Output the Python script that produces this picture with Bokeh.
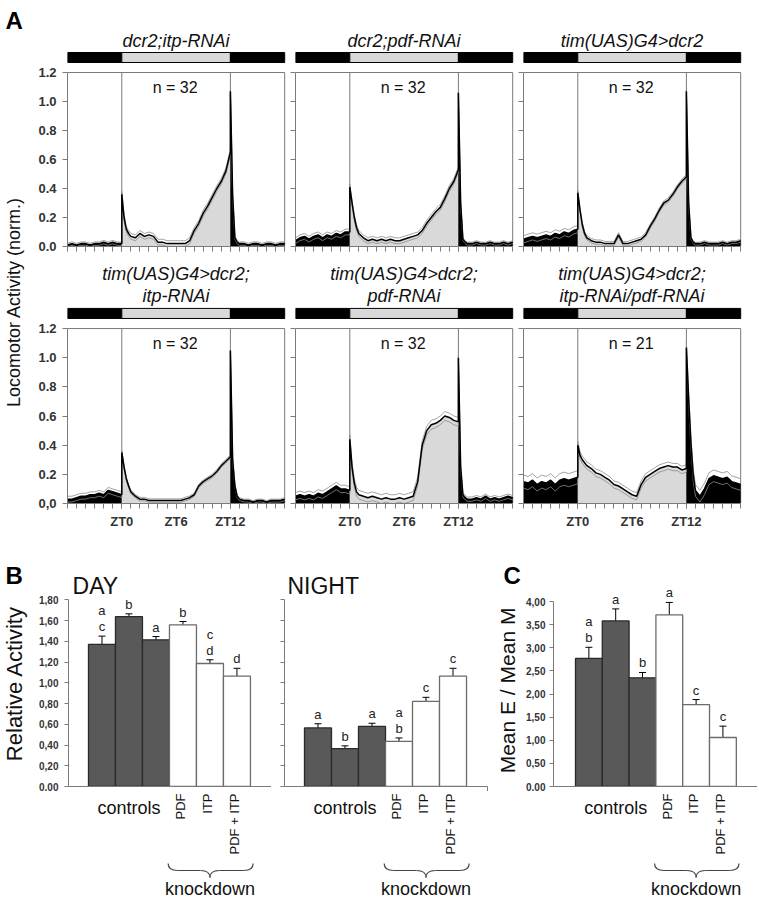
import math
from bokeh.plotting import figure
from bokeh.layouts import row, column
from bokeh.models import Range1d, FixedTicker, Whisker, ColumnDataSource, TeeHead
from bokeh.core.properties import value
from bokeh.embed import file_html
from bokeh.resources import INLINE

FONT = "Liberation Sans"
AXIS_GREY = "#7a7a7a"
LABEL_COL = "#333333"

# ---------------- Panel A: locomotor activity profiles ----------------
zt_night1 = [-6.0, -5.5, -5.0, -4.5, -4.0, -3.5, -3.0, -2.5, -2.0, -1.5, -1.0, -0.5, 0.0]
zt_day = [0.0, 0.25, 0.5, 0.75, 1.0, 1.5, 2.0, 2.5, 3.0, 3.5, 4.0, 4.5, 5.0, 5.5, 6.0,
          6.5, 7.0, 7.5, 8.0, 8.5, 9.0, 9.5, 10.0, 10.5, 11.0, 11.5, 12.0]
zt_night2 = [12.0, 12.25, 12.5, 12.75, 13.0, 13.5, 14.0, 14.5, 15.0, 15.5, 16.0, 16.5, 17.0, 17.5, 18.0]
zt_hour_ticks = [-6, -5, -4, -3, -2, -1, 0, 1, 2, 3, 4, 5, 6, 7, 8, 9, 10, 11, 12, 13, 14, 15, 16, 17, 18]
zt_label_ticks = [0, 6, 12]
zt_label_text = ["ZT0", "ZT6", "ZT12"]
lights_on = 0
lights_off = 12
act_ticks = [0.0, 0.2, 0.4, 0.6, 0.8, 1.0, 1.2]
act_tick_text_row1 = ["0.0", "0.2", "0.4", "0.6", "0.8", "1.0", "1.2"]
act_tick_text_row2 = ["0,0", "0.2", "0.4", "0.6", "0.8", "1.0", "1.2"]

genotypes = [
    ["dcr2;itp-RNAi"],
    ["dcr2;pdf-RNAi"],
    ["tim(UAS)G4>dcr2"],
    ["tim(UAS)G4>dcr2;", "itp-RNAi"],
    ["tim(UAS)G4>dcr2;", "pdf-RNAi"],
    ["tim(UAS)G4>dcr2;", "itp-RNAi/pdf-RNAi"],
]
n_flies = [32, 32, 32, 32, 32, 21]

# dcr2;itp-RNAi
itp_ctrl_night1 = [0.01, 0.02, 0.01, 0.02, 0.02, 0.01, 0.02, 0.02, 0.03, 0.02, 0.03, 0.02, 0.02]
itp_ctrl_day = [0.36, 0.2, 0.12, 0.09, 0.07, 0.06, 0.09, 0.07, 0.08, 0.07, 0.03, 0.03, 0.02, 0.02,
                0.02, 0.02, 0.02, 0.04, 0.11, 0.16, 0.23, 0.28, 0.34, 0.4, 0.45, 0.52, 0.65]
itp_ctrl_night2 = [1.07, 0.35, 0.06, 0.03, 0.02, 0.02, 0.01, 0.02, 0.02, 0.01, 0.02, 0.02, 0.01, 0.02, 0.02]
itp_ctrl_sem = [0.012, 0.02, 0.012]

# dcr2;pdf-RNAi
pdf_ctrl_night1 = [0.04, 0.06, 0.07, 0.05, 0.07, 0.08, 0.06, 0.08, 0.07, 0.09, 0.08, 0.1, 0.1]
pdf_ctrl_day = [0.41, 0.3, 0.2, 0.13, 0.09, 0.06, 0.04, 0.05, 0.04, 0.05, 0.04, 0.05, 0.04, 0.04,
                0.05, 0.06, 0.07, 0.08, 0.11, 0.16, 0.2, 0.24, 0.27, 0.33, 0.4, 0.45, 0.53]
pdf_ctrl_night2 = [1.06, 0.3, 0.05, 0.03, 0.02, 0.02, 0.03, 0.02, 0.02, 0.03, 0.02, 0.02, 0.03, 0.02, 0.03]
pdf_ctrl_sem = [0.02, 0.02, 0.01]

# tim(UAS)G4>dcr2
gal4_ctrl_night1 = [0.05, 0.06, 0.07, 0.06, 0.07, 0.08, 0.07, 0.09, 0.08, 0.1, 0.09, 0.11, 0.12]
gal4_ctrl_day = [0.37, 0.25, 0.15, 0.09, 0.06, 0.04, 0.03, 0.03, 0.02, 0.02, 0.02, 0.08, 0.02, 0.02,
                 0.03, 0.04, 0.05, 0.08, 0.14, 0.19, 0.25, 0.3, 0.32, 0.36, 0.41, 0.45, 0.48]
gal4_ctrl_night2 = [1.07, 0.3, 0.06, 0.03, 0.02, 0.02, 0.03, 0.02, 0.02, 0.02, 0.03, 0.02, 0.03, 0.03, 0.04]
gal4_ctrl_sem = [0.025, 0.015, 0.01]

# tim(UAS)G4>dcr2; itp-RNAi
itp_kd_night1 = [0.03, 0.03, 0.04, 0.05, 0.05, 0.06, 0.06, 0.07, 0.06, 0.09, 0.08, 0.07, 0.06]
itp_kd_day = [0.35, 0.25, 0.17, 0.12, 0.08, 0.05, 0.03, 0.03, 0.02, 0.02, 0.02, 0.02, 0.02, 0.02,
              0.02, 0.02, 0.03, 0.04, 0.06, 0.12, 0.15, 0.17, 0.19, 0.22, 0.26, 0.29, 0.32]
itp_kd_night2 = [1.05, 0.3, 0.12, 0.05, 0.03, 0.02, 0.02, 0.01, 0.02, 0.02, 0.01, 0.02, 0.02, 0.02, 0.03]
itp_kd_sem = [0.02, 0.012, 0.01]

# tim(UAS)G4>dcr2; pdf-RNAi
pdf_kd_night1 = [0.05, 0.06, 0.05, 0.06, 0.05, 0.07, 0.06, 0.08, 0.1, 0.12, 0.1, 0.1, 0.09]
pdf_kd_day = [0.44, 0.25, 0.14, 0.08, 0.06, 0.05, 0.04, 0.05, 0.04, 0.03, 0.04, 0.03, 0.03, 0.04,
              0.03, 0.04, 0.05, 0.15, 0.4, 0.5, 0.54, 0.55, 0.57, 0.6, 0.59, 0.57, 0.56]
pdf_kd_night2 = [1.0, 0.25, 0.06, 0.04, 0.03, 0.03, 0.04, 0.03, 0.05, 0.03, 0.04, 0.03, 0.04, 0.05, 0.04]
pdf_kd_sem = [0.025, 0.03, 0.015]

# tim(UAS)G4>dcr2; itp-RNAi/pdf-RNAi
double_kd_night1 = [0.15, 0.14, 0.16, 0.13, 0.15, 0.14, 0.16, 0.13, 0.16, 0.17, 0.16, 0.17, 0.18]
double_kd_day = [0.4, 0.33, 0.3, 0.28, 0.26, 0.24, 0.21, 0.2, 0.18, 0.16, 0.13, 0.12, 0.1, 0.08,
                 0.06, 0.05, 0.13, 0.18, 0.2, 0.22, 0.24, 0.25, 0.26, 0.25, 0.25, 0.23, 0.24]
double_kd_night2 = [1.07, 0.72, 0.42, 0.2, 0.09, 0.05, 0.1, 0.17, 0.19, 0.18, 0.17, 0.18, 0.15, 0.14, 0.13]
double_kd_sem = [0.045, 0.025, 0.04]

profiles = [
    (itp_ctrl_night1, itp_ctrl_day, itp_ctrl_night2, itp_ctrl_sem),
    (pdf_ctrl_night1, pdf_ctrl_day, pdf_ctrl_night2, pdf_ctrl_sem),
    (gal4_ctrl_night1, gal4_ctrl_day, gal4_ctrl_night2, gal4_ctrl_sem),
    (itp_kd_night1, itp_kd_day, itp_kd_night2, itp_kd_sem),
    (pdf_kd_night1, pdf_kd_day, pdf_kd_night2, pdf_kd_sem),
    (double_kd_night1, double_kd_day, double_kd_night2, double_kd_sem),
]

# ---------------- Panels B and C: bar charts ----------------
bar_x = [1, 2, 3, 4, 5, 6]
bar_kind = ["control", "control", "control", "knockdown", "knockdown", "knockdown"]
knock_labels = ["PDF", "ITP", "PDF + ITP"]

day_rel = [1.37, 1.638, 1.414, 1.559, 1.186, 1.065]
day_sem = [0.08, 0.027, 0.032, 0.032, 0.036, 0.075]
day_letters_low = ["c", "b", "a", "b", "d", "d"]
day_letters_high = ["a", "", "", "", "c", ""]

night_rel = [0.565, 0.365, 0.58, 0.435, 0.82, 1.065]
night_sem = [0.04, 0.027, 0.03, 0.033, 0.04, 0.075]
night_letters_low = ["a", "b", "a", "b", "c", "c"]
night_letters_high = ["", "", "", "a", "", ""]

ratio_em = [2.77, 3.58, 2.35, 3.71, 1.77, 1.06]
ratio_sem = [0.24, 0.26, 0.115, 0.27, 0.11, 0.245]
ratio_letters_low = ["b", "a", "b", "a", "c", "c"]
ratio_letters_high = ["a", "", "", "", "", ""]

rel_ticks = [0.0, 0.2, 0.4, 0.6, 0.8, 1.0, 1.2, 1.4, 1.6, 1.8]
rel_tick_text = ["0,00", "0,20", "0,40", "0,60", "0,80", "1,00", "1,20", "1,40", "1,60", "1,80"]
ratio_ticks = [0.0, 0.5, 1.0, 1.5, 2.0, 2.5, 3.0, 3.5, 4.0]
ratio_tick_text = ["0,00", "0,50", "1,00", "1,50", "2,00", "2,50", "3,00", "3,50", "4,00"]


def base_fig(**kw):
    p = figure(output_backend="svg", toolbar_location=None, **kw)
    p.outline_line_color = None
    p.background_fill_color = "white"
    p.border_fill_color = "white"
    return p


def hide_labels(ax):
    ax.major_label_text_font_size = "0px"
    ax.major_label_text_color = None
    ax.major_label_standoff = 0


def activity_panel(idx):
    night1, day, night2, sem = profiles[idx]
    r, c = divmod(idx, 3)
    fig_w = [255, 229, 239][c]
    b_left = [33, 6, 5][c]
    b_right = [3, 4, 15][c]
    if r == 0:
        fig_h, frame_h, b_top, b_bottom, ppu = 256, 238, 8, 10, 145.0
    else:
        fig_h, frame_h, b_top, b_bottom, ppu = 277, 247, 0, 30, 145.8
    p = base_fig(width=fig_w, height=fig_h, x_range=Range1d(-6, 18.2),
                 y_range=Range1d(0, frame_h / ppu),
                 min_border_left=b_left, min_border_right=b_right,
                 min_border_top=b_top, min_border_bottom=b_bottom)
    p.xgrid.visible = False
    p.ygrid.visible = False

    xa = p.xaxis[0]
    xa.ticker = FixedTicker(ticks=zt_label_ticks, minor_ticks=zt_hour_ticks)
    xa.bounds = (zt_hour_ticks[0], zt_hour_ticks[-1])
    xa.axis_line_color = AXIS_GREY
    xa.major_tick_line_color = AXIS_GREY
    xa.minor_tick_line_color = AXIS_GREY
    xa.major_tick_in = 0
    xa.major_tick_out = 5
    xa.minor_tick_in = 0
    xa.minor_tick_out = 5
    if r == 1:
        xa.major_label_overrides = dict(zip(zt_label_ticks, zt_label_text))
        xa.major_label_text_font = FONT
        xa.major_label_text_font_size = "13px"
        xa.major_label_text_font_style = "bold"
        xa.major_label_text_color = LABEL_COL
        xa.major_label_standoff = 5
    else:
        hide_labels(xa)

    ya = p.yaxis[0]
    ya.ticker = FixedTicker(ticks=act_ticks, minor_ticks=[])
    ya.bounds = (0, 1.2)
    ya.axis_line_color = AXIS_GREY
    ya.major_tick_line_color = AXIS_GREY
    ya.major_tick_in = 0
    ya.major_tick_out = 5
    if c == 0:
        labels = act_tick_text_row1 if r == 0 else act_tick_text_row2
        ya.major_label_overrides = dict(zip(act_ticks, labels))
        ya.major_label_text_font = FONT
        ya.major_label_text_font_size = "13px"
        ya.major_label_text_font_style = "bold"
        ya.major_label_text_color = LABEL_COL
        ya.major_label_standoff = 6
    else:
        hide_labels(ya)

    # frame box (top / right) and lights-on / lights-off lines
    p.line(x=[-6, 18, 18], y=[1.2, 1.2, 0], line_color=AXIS_GREY, line_width=1)
    p.segment(x0=[lights_on, lights_off], y0=[0, 0], x1=[lights_on, lights_off], y1=[1.2, 1.2],
              line_color=AXIS_GREY, line_width=1)

    # activity fills
    p.varea(x=zt_night1, y1=0, y2=night1, fill_color="black")
    p.varea(x=zt_day, y1=0, y2=day, fill_color="#d9d9d9")
    p.varea(x=zt_night2, y1=0, y2=night2, fill_color="black")

    t_all = zt_night1 + zt_day + zt_night2
    m_all = night1 + day + night2
    s_all = [sem[0]] * len(zt_night1) + [sem[1]] * len(zt_day) + [sem[2]] * len(zt_night2)
    upper = [m + s for m, s in zip(m_all, s_all)]
    lower = [max(m - s, 0.0) for m, s in zip(m_all, s_all)]
    p.line(t_all, upper, line_color="#8c8c8c", line_width=0.8)
    p.line(t_all, lower, line_color="#8c8c8c", line_width=0.8)
    p.line(t_all, m_all, line_color="black", line_width=1.5)

    # light / dark bar
    p.quad(left=[-6, lights_on, lights_off], right=[lights_on, lights_off, 18],
           bottom=1.269, top=1.338, fill_color=["black", "#d9d9d9", "black"],
           line_color="black", line_width=1)

    lines = genotypes[idx]
    ys = [1.42] if len(lines) == 1 else [1.577, 1.42]
    p.text(x=[6] * len(lines), y=ys, text=lines, text_font=value(FONT), text_font_style="italic",
           text_font_size="18px", text_align="center", text_baseline="middle", text_color="#111111")
    p.text(x=[5.9], y=[1.1], text=["n = %d" % n_flies[idx]], text_font=value(FONT),
           text_font_size="16px", text_align="center", text_baseline="middle", text_color="#111111")
    return p


def bar_panel(vals, errs, low, high, ticks, tick_text, ytop, x_rng, axis_end, end_ticks,
              fig_w, b_left, show_labels, standoff):
    p = base_fig(width=fig_w, height=258, x_range=x_rng, y_range=Range1d(0, ytop),
                 min_border_left=b_left, min_border_right=0, min_border_top=0, min_border_bottom=5)
    p.xgrid.visible = False
    p.ygrid.visible = False
    ya = p.yaxis[0]
    ya.ticker = FixedTicker(ticks=ticks, minor_ticks=[])
    ya.bounds = (0, ticks[-1])
    ya.axis_line_color = AXIS_GREY
    ya.major_tick_line_color = AXIS_GREY
    ya.major_tick_in = 0
    ya.major_tick_out = 4
    if show_labels:
        ya.major_label_overrides = dict(zip(ticks, tick_text))
        ya.major_label_text_font = FONT
        ya.major_label_text_font_size = "10px"
        ya.major_label_text_font_style = "bold"
        ya.major_label_text_color = LABEL_COL
        ya.major_label_standoff = standoff
    else:
        hide_labels(ya)
    xa = p.xaxis[0]
    xa.ticker = FixedTicker(ticks=end_ticks, minor_ticks=[])
    xa.bounds = (x_rng.start, axis_end)
    xa.axis_line_color = AXIS_GREY
    xa.major_tick_line_color = AXIS_GREY
    xa.major_tick_in = 0
    xa.major_tick_out = 5
    hide_labels(xa)

    fills = ["#595959" if k == "control" else "white" for k in bar_kind]
    outlines = ["#2a2a2a" if k == "control" else "#6b6b6b" for k in bar_kind]
    p.vbar(x=bar_x, top=vals, bottom=0, width=1, fill_color=fills, line_color=outlines, line_width=1.3)

    up = [v + e for v, e in zip(vals, errs)]
    lo = [v - e for v, e in zip(vals, errs)]
    src = ColumnDataSource(dict(x=bar_x, upper=up, lower=lo))
    p.add_layout(Whisker(base="x", upper="upper", lower="lower", source=src, line_color="black",
                         line_width=1,
                         upper_head=TeeHead(size=7, line_color="black", line_width=1),
                         lower_head=TeeHead(size=7, line_color="black", line_width=1)))
    p.text(x=bar_x, y=up, text=low, y_offset=-2, text_font=value(FONT), text_font_size="13px",
           text_align="center", text_baseline="bottom", text_color="#222222")
    p.text(x=bar_x, y=up, text=high, y_offset=-18, text_font=value(FONT), text_font_size="13px",
           text_align="center", text_baseline="bottom", text_color="#222222")
    return p


LABEL_H = 106


def label_panel(x_rng, fig_w, b_left):
    p = base_fig(width=fig_w, height=LABEL_H, x_range=x_rng, y_range=Range1d(0, LABEL_H),
                 x_axis_type=None, y_axis_type=None,
                 min_border_left=b_left, min_border_right=0, min_border_top=0, min_border_bottom=0)
    p.grid.visible = False
    p.text(x=[2], y=[LABEL_H - 16], text=["controls"], text_font=value(FONT), text_font_size="18px",
           text_align="center", text_baseline="middle", text_color="#111111")
    p.text(x=[bx - 0.08 for bx in bar_x[3:]], y=[LABEL_H - 2] * 3, text=knock_labels,
           angle=math.pi / 2, text_font=value(FONT), text_font_size="13px", text_align="right",
           text_baseline="middle", text_color="#111111")
    # curly brace below the knockdown bars
    xl, xm, xr = 3.45, 5.0, 6.6
    yt, yh, yb = LABEL_H - 72, LABEL_H - 79, LABEL_H - 86
    bc = "#444444"
    p.bezier(x0=[xl, xm - 0.35, xm + 0.35, xr - 0.35], y0=[yt, yh, yh, yh],
             x1=[xl + 0.35, xm, xm, xr], y1=[yh, yb, yb, yt],
             cx0=[xl, xm - 0.1, xm + 0.1, xr - 0.1], cy0=[yt - 5, yh, yh, yh],
             cx1=[xl + 0.1, xm, xm, xr], cy1=[yh, yh - 3, yh - 3, yt - 5],
             line_color=bc, line_width=1.2)
    p.segment(x0=[xl + 0.35, xm + 0.35], y0=[yh, yh], x1=[xm - 0.35, xr - 0.35], y1=[yh, yh],
              line_color=bc, line_width=1.2)
    p.text(x=[xm], y=[LABEL_H - 97], text=["knockdown"], text_font=value(FONT), text_font_size="18px",
           text_align="center", text_baseline="middle", text_color="#111111")
    return p


# ---- build panel A ----
a_figs = [activity_panel(i) for i in range(6)]

# ---- build panels B / C ----
day_x = Range1d(-0.24, 7.28)
night_x = Range1d(-0.24, 8.61)
ratio_x = Range1d(-0.32, 7.29)
rel_top = 253 / 103.7
ratio_top = 253 / 46.25

day_p = bar_panel(day_rel, day_sem, day_letters_low, day_letters_high, rel_ticks, rel_tick_text,
                  rel_top, day_x, 7.28, [7.28], 237, 34, True, 6)
day_p.text(x=[-0.09], y=[1.93], text=["DAY"], text_font=value(FONT), text_font_size="23px",
           text_align="left", text_baseline="middle", text_color="#111111")

night_p = bar_panel(night_rel, night_sem, night_letters_low, night_letters_high, rel_ticks,
                    rel_tick_text, rel_top, night_x, 7.28, [7.28], 252, 13, False, 0)
night_p.text(x=[-0.13], y=[1.93], text=["NIGHT"], text_font=value(FONT), text_font_size="23px",
             text_align="left", text_baseline="middle", text_color="#111111")
night_p.text(x=[7.87], y=[2.035], text=["C"], text_font=value(FONT), text_font_size="24px",
             text_font_style="bold", text_align="left", text_baseline="middle", text_color="black")
night_p.text(x=[8.02], y=[0.926], text=["Mean E / Mean M"], angle=math.pi / 2, text_font=value(FONT),
             text_font_size="21px", text_align="center", text_baseline="middle", text_color="#111111")

ratio_p = bar_panel(ratio_em, ratio_sem, ratio_letters_low, ratio_letters_high, ratio_ticks,
                    ratio_tick_text, ratio_top, ratio_x, 7.29, [7.29], 234, 30, True, 4)

day_l = label_panel(day_x, 237, 34)
night_l = label_panel(night_x, 252, 13)
ratio_l = label_panel(ratio_x, 234, 30)

# ---- left strip with panel letters and shared axis titles ----
STRIP_H = 256 + 277 + 258 + LABEL_H
strip = base_fig(width=34, height=STRIP_H, x_range=Range1d(0, 34), y_range=Range1d(0, STRIP_H),
                 x_axis_type=None, y_axis_type=None, min_border=0)
strip.grid.visible = False
strip.text(x=[5, 5], y=[STRIP_H - 20, STRIP_H - 575], text=["A", "B"], text_font=value(FONT),
           text_font_size="24px", text_font_style="bold", text_align="left",
           text_baseline="middle", text_color="black")
strip.text(x=[13], y=[STRIP_H - 299], text=["Locomotor Activity  (norm.)"], angle=math.pi / 2,
           text_font=value(FONT), text_font_size="18px", text_align="center",
           text_baseline="middle", text_color="#111111")
strip.text(x=[14], y=[STRIP_H - 683], text=["Relative Activity"], angle=math.pi / 2,
           text_font=value(FONT), text_font_size="22px", text_align="center",
           text_baseline="middle", text_color="#111111")

layout = row(strip, column(row(*a_figs[:3]), row(*a_figs[3:]),
                           row(day_p, night_p, ratio_p), row(day_l, night_l, ratio_l)))

html = file_html(layout, INLINE, "Figure")
open("out.html", "w").write(html)
